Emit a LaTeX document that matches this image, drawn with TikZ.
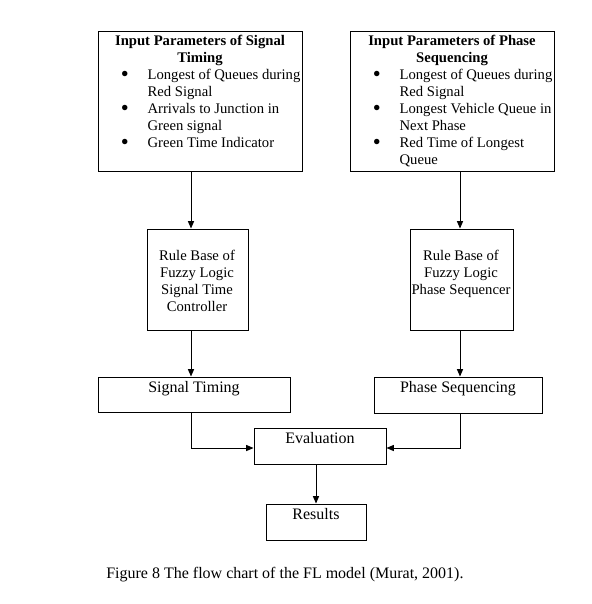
\documentclass[tikz,border=0pt]{standalone}
\usepackage{fontspec}
\setmainfont{Liberation Serif}
\usetikzlibrary{fit,arrows.meta}
\newcommand{\bul}{\makebox[20.5pt][l]{\hspace{0.5pt}\raisebox{-1.2pt}{\fontsize{17}{12}\selectfont\textbullet}}}
\begin{document}
\begin{tikzpicture}[x=0.75pt,y=-0.75pt,
  box/.style={draw, line width=0.7pt, inner sep=0pt},
  txt/.style={inner sep=0pt, font=\fontsize{11}{12.75}\selectfont},
  big/.style={inner sep=0pt, font=\fontsize{12}{13.8}\selectfont},
  arr/.style={line width=0.7pt, -{Triangle[length=5.5pt,width=4.5pt]}},
  ln/.style={line width=0.7pt}]
\useasboundingbox (0,0) rectangle (592,604);
% boxes
\node[box, fit={(98,31) (302,171)}] (in1) {};
\node[box, fit={(350,31) (554,171)}] (in2) {};
\node[box, fit={(147,229) (248,330)}] (rb1) {};
\node[box, fit={(410,229) (513,330)}] (rb2) {};
\node[box, fit={(98,377) (290,412)}] (st) {};
\node[box, fit={(374,377) (542,413)}] (ps) {};
\node[box, fit={(254,428) (386,464)}] (ev) {};
\node[box, fit={(266,504) (366,540)}] (res) {};
% texts
\node[txt, font=\fontsize{11}{12.75}\selectfont\bfseries, align=center, anchor=north] (t1) at (200,35) {Input Parameters of Signal\\Timing};
\node[txt, align=left, anchor=north west] (l1) at (120,69) {\bul Longest of Queues during\\\hspace{20.5pt}Red Signal\\\bul Arrivals to Junction in\\\hspace{20.5pt}Green signal\\\bul Green Time Indicator};
\node[txt, font=\fontsize{11}{12.75}\selectfont\bfseries, align=center, anchor=north] (t2) at (452,35) {Input Parameters of Phase\\Sequencing};
\node[txt, align=left, anchor=north west] (l2) at (372,69) {\bul Longest of Queues during\\\hspace{20.5pt}Red Signal\\\bul Longest Vehicle Queue in\\\hspace{20.5pt}Next Phase\\\bul Red Time of Longest\\\hspace{20.5pt}Queue};
\node[txt, align=center, anchor=north] (r1) at (197,250) {Rule Base of\\Fuzzy Logic\\Signal Time\\Controller};
\node[txt, align=center, anchor=north] (r2) at (461,250) {Rule Base of\\Fuzzy Logic\\Phase Sequencer};
\node[big, anchor=north] (s1) at (194,381) {Signal Timing};
\node[big, anchor=north] (s2) at (458,381) {Phase Sequencing};
\node[big, anchor=north] (e1) at (320,432) {Evaluation};
\node[big, anchor=north] (e2) at (316,508) {Results};
\node[big, anchor=west] (cap) at (106,575) {Figure 8 The flow chart of the FL model (Murat, 2001).};
% connector coordinates
\coordinate (xa) at (191,0);
\coordinate (xb) at (460,0);
\coordinate (xc) at (316,0);
\coordinate (ya) at (0,448);
\draw[arr] (in1.south -| xa) -- (rb1.north -| xa);
\draw[arr] (in2.south -| xb) -- (rb2.north -| xb);
\draw[arr] (rb1.south -| xa) -- (st.north -| xa);
\draw[arr] (rb2.south -| xb) -- (ps.north -| xb);
\draw[arr] (st.south -| xa) |- (ev.west |- ya);
\draw[arr] (ps.south -| xb) |- (ev.east |- ya);
\draw[arr] (ev.south -| xc) -- (res.north -| xc);
\end{tikzpicture}
\end{document}
